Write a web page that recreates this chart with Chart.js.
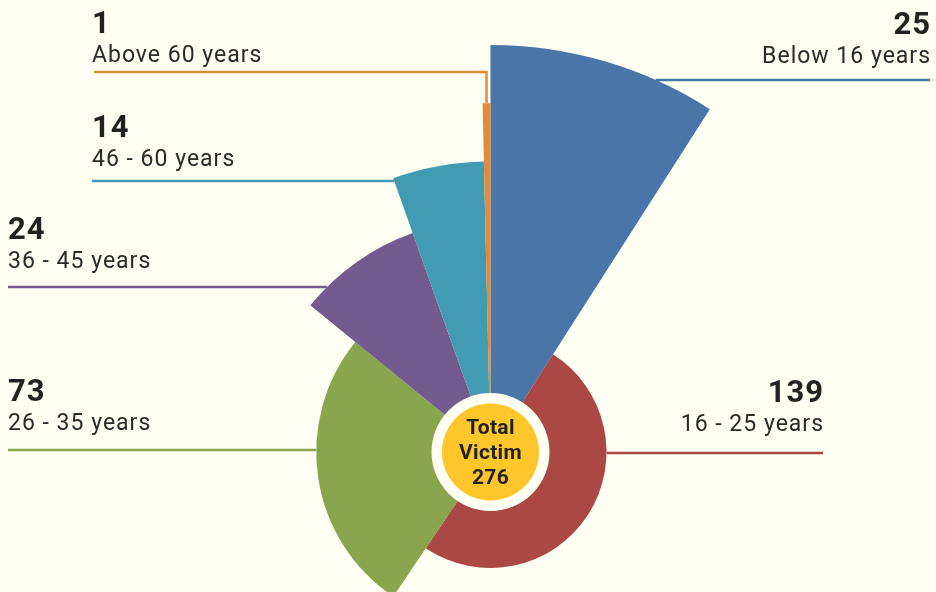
<!DOCTYPE html>
<html>
<head>
<meta charset="utf-8">
<script src="https://cdn.jsdelivr.net/npm/chart.js@4/dist/chart.umd.min.js"></script>
<style>
  html, body { margin: 0; padding: 0; background: #fefef2; overflow: hidden; }
  #wrap { position: relative; width: 936px; height: 904px; }
</style>
</head>
<body>
<div id="wrap"><canvas id="victimChart"></canvas></div>
<script>
// ----------------------------------------------------
// Data
// ----------------------------------------------------
const ageGroups = ['Below 16 years', '16 - 25 years', '26 - 35 years', '36 - 45 years', '46 - 60 years', 'Above 60 years'];
const victims = [25, 139, 73, 24, 14, 1];
const centerTitle = ['Total', 'Victim'];

const sliceColors = ['#4a75a8', '#ab4744', '#89a64e', '#735b8f', '#409bb3', '#e08b3d'];

// where each label sits (side, text x, label baseline, leader line y)
const labelLayout = [
    { side: 'right', x: 930, textY: 63,  lineY: 80 },
    { side: 'right', x: 823, textY: 431, lineY: 453 },
    { side: 'left',  x: 8,   textY: 430, lineY: 450 },
    { side: 'left',  x: 8,   textY: 268, lineY: 287 },
    { side: 'left',  x: 92,  textY: 166, lineY: 181 },
    { side: 'left',  x: 92,  textY: 62,  lineY: 72, elbow: true }
];

const total = victims.reduce((a, b) => a + b, 0);
const INNER_R = 58;
const MIN_OUTER_R = 116;

// ----------------------------------------------------
// Spiral radius: each slice grows one step after the previous,
// the first slice (Below 16) closes the spiral as the largest
// ----------------------------------------------------
const spiralPlugin = {
    id: 'spiral',
    afterDatasetsUpdate(chart) {
        const arcs = chart.getDatasetMeta(0).data;
        const n = arcs.length;
        const maxR = arcs[0].outerRadius;
        arcs.forEach((arc, i) => {
            const rank = (i + n - 1) % n;
            arc.outerRadius = MIN_OUTER_R + (maxR - MIN_OUTER_R) * rank / (n - 1);
            arc.innerRadius = INNER_R;
        });
    }
};

function inSlice(angle, start, end) {
    const TAU = Math.PI * 2;
    let a = angle;
    while (a < start) a += TAU;
    while (a >= start + TAU) a -= TAU;
    return a <= end + 1e-9;
}

// x where a horizontal line at y first touches the slice, from the given side
function edgeX(arc, y, side) {
    const { x: cx, y: cy, startAngle, endAngle, outerRadius: r } = arc;
    const dy = y - cy;
    const xs = [];
    if (Math.abs(dy) <= r) {
        const w = Math.sqrt(r * r - dy * dy);
        [cx - w, cx + w].forEach(px => {
            if (inSlice(Math.atan2(dy, px - cx), startAngle, endAngle)) xs.push(px);
        });
    }
    [startAngle, endAngle].forEach(a => {
        const s = Math.sin(a);
        if (Math.abs(s) < 1e-6) return;
        const t = dy / s;
        if (t > 0 && t <= r) xs.push(cx + t * Math.cos(a));
    });
    if (!xs.length) return cx;
    return side === 'left' ? Math.min(...xs) : Math.max(...xs);
}

// text with letter spacing, no trailing gap on right-aligned text
function spacedText(ctx, text, x, y, align, spacing) {
    ctx.letterSpacing = spacing + 'px';
    ctx.textAlign = align;
    ctx.fillText(text, align === 'right' ? x + spacing : x, y);
    ctx.letterSpacing = '0px';
}

// ----------------------------------------------------
// Labels, leader lines and center badge
// ----------------------------------------------------
const labelPlugin = {
    id: 'ageLabels',
    afterDraw(chart) {
        const ctx = chart.ctx;
        const arcs = chart.getDatasetMeta(0).data;
        ctx.save();

        arcs.forEach((arc, i) => {
            const lay = labelLayout[i];
            ctx.strokeStyle = sliceColors[i];
            ctx.lineWidth = 2.5;
            ctx.beginPath();
            if (lay.elbow) {
                const mid = (arc.startAngle + arc.endAngle) / 2;
                const px = arc.x + arc.outerRadius * Math.cos(mid);
                const py = arc.y + arc.outerRadius * Math.sin(mid);
                ctx.moveTo(lay.x + 2, lay.lineY);
                ctx.lineTo(px, lay.lineY);
                ctx.lineTo(px, py);
            } else {
                const ex = edgeX(arc, lay.lineY, lay.side);
                ctx.moveTo(lay.x, lay.lineY);
                ctx.lineTo(ex, lay.lineY);
            }
            ctx.stroke();

            const align = lay.side === 'left' ? 'left' : 'right';
            ctx.textBaseline = 'alphabetic';
            ctx.fillStyle = '#222222';
            ctx.font = 'bold 31px Roboto';
            spacedText(ctx, String(victims[i]), lay.x, lay.textY - 29, align, 1);
            ctx.fillStyle = '#2a2a2a';
            ctx.font = '23px Roboto';
            spacedText(ctx, ageGroups[i], lay.x, lay.textY, align, 1);
        });

        // center badge
        const cx = arcs[0].x, cy = arcs[0].y;
        ctx.fillStyle = '#fefef2';
        ctx.beginPath();
        ctx.arc(cx, cy, 59, 0, Math.PI * 2);
        ctx.fill();
        ctx.fillStyle = '#fdc62a';
        ctx.beginPath();
        ctx.arc(cx, cy, 48.5, 0, Math.PI * 2);
        ctx.fill();

        ctx.fillStyle = '#222222';
        ctx.font = 'bold 21px Roboto';
        ctx.textBaseline = 'middle';
        spacedText(ctx, centerTitle[0], cx, cy - 23, 'center', 0.3);
        spacedText(ctx, centerTitle[1], cx, cy + 2, 'center', 0.3);
        spacedText(ctx, String(total), cx, cy + 27, 'center', 0.3);

        ctx.restore();
    }
};

// ----------------------------------------------------
// Chart
// ----------------------------------------------------
const ctx = document.getElementById('victimChart');
new Chart(ctx, {
    type: 'doughnut',
    data: {
        labels: ageGroups,
        datasets: [{
            data: victims,
            backgroundColor: sliceColors,
            borderWidth: 0,
            hoverOffset: 0
        }]
    },
    options: {
        responsive: true,
        maintainAspectRatio: false,
        animation: false,
        cutout: INNER_R,
        rotation: 0,
        layout: {
            padding: { left: 83.5, right: 38.5, top: 45, bottom: 45 }
        },
        plugins: {
            legend: { display: false },
            tooltip: { enabled: false }
        }
    },
    plugins: [spiralPlugin, labelPlugin]
});
</script>
</body>
</html>
